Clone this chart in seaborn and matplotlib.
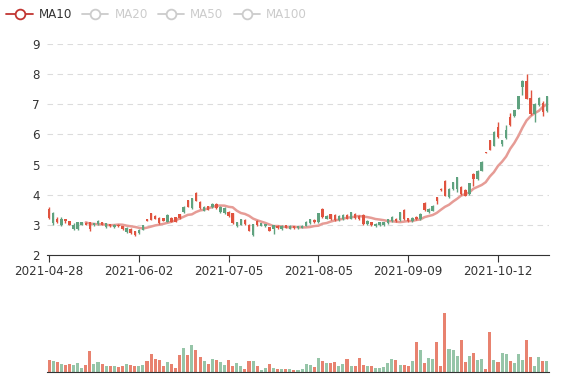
import matplotlib
matplotlib.use('Agg')
import matplotlib.pyplot as plt
from matplotlib.lines import Line2D
import seaborn as sns
import numpy as np
import pandas as pd

# daily candles, 2021-04-28 .. 2021-10-28 (123 trading days)
opens = [3.22, 3.40, 3.08, 3.20, 3.12, 3.00, 3.00, 3.08, 3.08, 3.00,
         2.85, 3.05, 3.14, 3.00, 3.05, 2.95, 3.00, 2.95, 2.85, 2.90,
         2.73, 2.67, 2.84, 2.98, 3.14, 3.17, 3.20, 3.05, 3.14, 3.33,
         3.11, 3.11, 3.22, 3.60, 3.60, 3.88, 3.80, 3.55, 3.60, 3.50,
         3.70, 3.55, 3.60, 3.55, 3.30, 3.05, 3.09, 3.19, 3.03, 2.81,
         3.02, 2.98, 3.05, 3.02, 2.81, 2.98, 2.89, 2.97, 2.91, 2.96,
         2.89, 2.95, 2.97, 3.11, 3.19, 3.08, 3.38, 3.25, 3.31, 3.19,
         3.16, 3.30, 3.33, 3.20, 3.41, 3.22, 3.19, 3.03, 3.13, 2.98,
         3.04, 3.08, 3.09, 3.19, 3.27, 3.12, 3.41, 3.19, 3.12, 3.23,
         3.19, 3.36, 3.49, 3.53, 3.63, 3.80, 4.14, 3.97, 4.19, 4.41,
         4.58, 4.02, 3.97, 4.38, 4.52, 4.80, 5.10, 5.39, 5.49, 6.08,
         5.91, 5.80, 6.16, 6.30, 6.80, 7.27, 7.77, 7.19, 6.69, 7.02,
         7.22, 6.74, 7.27]
closes = [3.52, 3.05, 3.20, 3.00, 3.18, 3.12, 2.85, 2.85, 3.00, 3.07,
          3.08, 2.98, 3.03, 3.08, 2.92, 3.02, 2.92, 3.00, 2.95, 2.76,
          2.87, 2.78, 2.73, 2.84, 3.20, 3.38, 3.30, 3.24, 3.22, 3.11,
          3.22, 3.25, 3.35, 3.42, 3.82, 3.55, 4.07, 3.77, 3.47, 3.62,
          3.58, 3.69, 3.42, 3.38, 3.44, 3.38, 2.95, 3.00, 3.16, 3.00,
          2.65, 3.14, 2.97, 2.95, 2.92, 2.85, 2.97, 2.86, 2.98, 2.87,
          2.95, 2.89, 2.91, 2.97, 3.05, 3.16, 3.08, 3.52, 3.20, 3.35,
          3.33, 3.16, 3.19, 3.33, 3.20, 3.36, 3.30, 3.33, 3.02, 3.09,
          2.95, 2.99, 2.98, 3.05, 3.13, 3.21, 3.16, 3.49, 3.22, 3.12,
          3.26, 3.19, 3.73, 3.42, 3.47, 3.91, 4.19, 4.47, 3.91, 4.19,
          4.19, 4.27, 4.16, 4.02, 4.69, 4.52, 4.80, 5.41, 5.80, 5.63,
          6.24, 5.69, 5.88, 6.58, 6.60, 6.86, 7.56, 7.78, 7.22, 6.67,
          6.97, 7.04, 6.78]
highs = [3.60, 3.42, 3.25, 3.25, 3.20, 3.14, 3.05, 3.10, 3.10, 3.08,
         3.10, 3.07, 3.15, 3.10, 3.07, 3.04, 3.02, 3.02, 2.97, 2.92,
         2.88, 2.80, 2.86, 3.00, 3.21, 3.40, 3.32, 3.26, 3.24, 3.35,
         3.25, 3.27, 3.37, 3.62, 3.84, 3.90, 4.10, 3.80, 3.62, 3.64,
         3.72, 3.72, 3.62, 3.58, 3.46, 3.40, 3.11, 3.20, 3.18, 3.02,
         3.04, 3.16, 3.07, 3.04, 2.94, 3.00, 2.99, 2.99, 3.00, 2.98,
         2.97, 2.97, 2.99, 3.13, 3.21, 3.18, 3.40, 3.55, 3.33, 3.37,
         3.35, 3.32, 3.35, 3.35, 3.43, 3.38, 3.32, 3.35, 3.15, 3.11,
         3.06, 3.10, 3.11, 3.21, 3.29, 3.23, 3.43, 3.52, 3.24, 3.25,
         3.28, 3.38, 3.75, 3.55, 3.65, 3.93, 4.21, 4.50, 4.22, 4.43,
         4.60, 4.29, 4.18, 4.40, 4.71, 4.82, 5.12, 5.43, 5.82, 6.10,
         6.40, 5.82, 6.30, 6.70, 6.82, 7.29, 7.79, 8.00, 7.49, 7.04,
         7.24, 7.10, 7.29]
lows = [3.20, 3.00, 3.05, 2.97, 3.05, 2.98, 2.82, 2.83, 2.98, 2.98,
        2.78, 2.95, 3.00, 2.98, 2.90, 2.93, 2.90, 2.93, 2.83, 2.74,
        2.70, 2.64, 2.70, 2.82, 3.13, 3.15, 3.18, 3.03, 3.12, 3.10,
        3.10, 3.09, 3.20, 3.40, 3.58, 3.52, 3.78, 3.52, 3.45, 3.48,
        3.56, 3.52, 3.40, 3.36, 3.27, 3.03, 2.93, 2.98, 3.01, 2.79,
        2.63, 2.96, 2.95, 2.93, 2.79, 2.70, 2.87, 2.84, 2.89, 2.85,
        2.87, 2.87, 2.89, 2.95, 3.03, 3.06, 3.06, 3.23, 3.18, 3.17,
        3.14, 3.14, 3.17, 3.18, 3.18, 3.20, 3.17, 3.01, 3.00, 2.96,
        2.93, 2.97, 2.96, 3.03, 3.11, 3.10, 3.14, 3.17, 3.10, 3.10,
        3.17, 3.17, 3.47, 3.40, 3.45, 3.70, 4.12, 3.95, 3.88, 4.17,
        4.08, 4.00, 3.95, 4.00, 4.30, 4.50, 4.78, 5.37, 5.47, 5.61,
        5.89, 5.60, 5.86, 6.28, 6.58, 6.84, 7.30, 7.17, 6.63, 6.41,
        6.95, 6.60, 6.76]
volumes = [12.3, 10.7, 9.7, 8.0, 7.0, 7.7, 7.3, 9.3, 4.0, 7.0,
           21.3, 8.0, 10.3, 8.0, 5.7, 6.3, 6.0, 5.0, 6.0, 8.0,
           6.7, 6.3, 5.7, 7.3, 11.3, 18.0, 13.3, 12.0, 6.0, 10.3,
           8.0, 3.7, 17.3, 24.0, 17.3, 26.7, 21.7, 15.3, 10.7, 7.7,
           13.3, 11.7, 10.3, 7.3, 12.3, 5.7, 9.3, 6.0, 3.3, 10.7,
           11.0, 5.7, 2.3, 4.3, 8.0, 4.0, 3.0, 3.0, 3.0, 3.0,
           1.7, 2.0, 3.3, 8.3, 6.7, 5.0, 14.0, 11.0, 9.3, 9.3,
           10.3, 6.3, 8.0, 13.3, 6.3, 6.3, 14.0, 7.0, 6.3, 6.0,
           4.3, 4.0, 5.3, 9.0, 13.3, 12.3, 6.7, 6.7, 6.0, 11.0,
           30.3, 21.7, 9.3, 14.0, 13.3, 30.0, 6.3, 59.0, 23.3, 22.3,
           16.3, 31.7, 10.3, 16.3, 19.0, 12.3, 13.0, 3.3, 40.0, 12.0,
           9.7, 19.3, 18.0, 11.0, 8.7, 18.0, 12.0, 32.3, 15.3, 6.3,
           14.7, 11.3, 11.0]
tick_labels = ['2021-04-28', '2021-06-02', '2021-07-05', '2021-08-05',
               '2021-09-09', '2021-10-12']
label_every = 22  # category axis shows every 22nd date
legend_names = ['MA10', 'MA20', 'MA50', 'MA100']

df = pd.DataFrame({'o': opens, 'c': closes, 'h': highs, 'l': lows, 'v': volumes})
df['i'] = np.arange(len(df))
df['dir'] = np.where(df['c'] >= df['o'], 'up', 'down')
df['ma10'] = df['c'].rolling(10).mean()  # MA10 of close
n = len(df)

sns.set_style('white')
plt.rcParams['font.family'] = ['DejaVu Sans']

W, H = 577, 380
fig = plt.figure(figsize=(W / 100, H / 100), dpi=100)
ax = fig.add_axes([47 / W, 1 - 255 / H, 502 / W, 211 / H])  # price
av = fig.add_axes([47 / W, 1 - 372 / H, 502 / W, 62 / H])   # volume

up_c, dn_c = '#e0533f', '#5fa27f'
cols = np.where(df['dir'] == 'up', up_c, dn_c)

# candles
ax.vlines(df['i'], df['l'], df['h'], colors=cols, lw=1, zorder=3)
lo = df[['o', 'c']].min(axis=1)
hgt = (df['c'] - df['o']).abs().clip(lower=0.02)
ax.bar(df['i'], hgt, bottom=lo, width=0.6, color=cols, lw=0, zorder=3)
sns.lineplot(x='i', y='ma10', data=df, ax=ax, color='#e69c96', lw=1.8, zorder=2)

ax.set_xlim(-0.5, n - 0.5)
ax.set_ylim(2, 9)
ax.set_yticks(range(2, 10))
ticks = list(range(0, n, label_every))
ax.set_xticks(ticks)
ax.set_xticklabels(tick_labels)
ax.set_xlabel('')
ax.set_ylabel('')
ax.grid(axis='y', color='#dcdcdc', ls=(0, (5, 4)), lw=0.8)
ax.grid(axis='x', visible=False)
for s in ['top', 'right', 'left']:
    ax.spines[s].set_visible(False)
ax.spines['bottom'].set_color('#333333')
ax.tick_params(axis='x', length=5, width=0.8, color='#333333', labelsize=8.6,
               labelcolor='#333333', pad=2, direction='out', bottom=True)
ax.tick_params(axis='y', length=0, labelsize=8.6, labelcolor='#333333', pad=5)

# volume bars
sns.barplot(x='i', y='v', hue='dir', data=df, ax=av, dodge=False, width=0.75,
            palette={'up': '#e8826f', 'down': '#96c5a8'}, legend=False,
            linewidth=0, saturation=1)
av.set_xlim(-0.5, n - 0.5)
av.set_ylim(0, max(volumes) * 1.05)
av.set_xticks([])
av.set_yticks([])
av.set_xlabel('')
av.set_ylabel('')
for s in ['top', 'right', 'left']:
    av.spines[s].set_visible(False)
av.spines['bottom'].set_color('#333333')

# legend (MA20/50/100 switched off)
hs = []
for k, nm in enumerate(legend_names):
    c = '#c23531' if k == 0 else '#cccccc'
    hs.append(Line2D([], [], color=c, lw=1.3, marker='o', markersize=7,
                     markerfacecolor='white', markeredgecolor=c, markeredgewidth=1.3))
leg = fig.legend(hs, legend_names, loc='upper left', bbox_to_anchor=(4 / W, 0.985),
                 ncol=4, frameon=False, fontsize=8.6, handlelength=2.2,
                 handletextpad=0.5, columnspacing=0.85, borderpad=0.2,
                 borderaxespad=0.0)
for k, t in enumerate(leg.get_texts()):
    t.set_color('#333333' if k == 0 else '#cccccc')

fig.savefig('out.png', dpi=100)
